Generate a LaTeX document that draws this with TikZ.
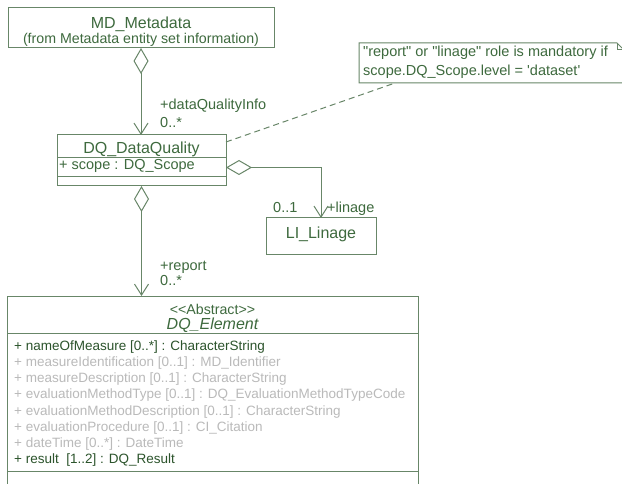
\documentclass[tikz,border=0pt]{standalone}
\usepackage{fontspec}
\setmainfont{Liberation Sans}
\usetikzlibrary{arrows.meta}
\definecolor{lg}{RGB}{104,134,104}
\definecolor{tg}{RGB}{62,106,62}
\definecolor{dg}{RGB}{44,84,44}
\definecolor{fg}{RGB}{186,186,186}
\begin{document}
\begin{tikzpicture}[x=1pt,y=-1pt,
  box/.style={draw=lg, line width=1pt, inner sep=0pt, outer sep=0pt, anchor=north west},
  ttl/.style={text=tg, font=\fontsize{16}{19}\selectfont, inner sep=0pt, anchor=base},
  lbl/.style={text=tg, font=\fontsize{14.5}{17}\selectfont, inner sep=0pt, anchor=base west},
  sub/.style={text=tg, font=\fontsize{14.2}{17}\selectfont, inner sep=0pt, anchor=base},
  attr/.style={font=\fontsize{13.5}{16}\selectfont, inner sep=0pt, anchor=base west},
  conn/.style={draw=lg, line width=1pt},
  agg/.style={conn, {Diamond[open, length=26pt, width=15pt, line width=1pt]}-{Straight Barb[length=11pt, width=14pt, line width=1pt]}}
]
\useasboundingbox (0,0) rectangle (622,484);
\fill[white] (0,0) rectangle (622,484);

% MD_Metadata
\node[box, minimum width=266pt, minimum height=40pt] (md) at (8,8) {};
\node[ttl] (mdt) at (141,28.5) {MD\_Metadata};
\node[sub] (mds) at (141,44) {(from Metadata entity set information)};

% DQ_DataQuality
\node[box, minimum width=169pt, minimum height=23pt] (dqn) at (57,135) {};
\node[box, minimum width=169pt, minimum height=19pt] (dqa) at (57,158) {};
\node[box, minimum width=169pt, minimum height=9pt] (dqo) at (57,177) {};
\node[ttl] (dqt) at (141.5,153.3) {DQ\_DataQuality};
\node[lbl] (dqs) at (59,169.5) {+ scope : DQ\_Scope};

% LI_Linage
\node[box, minimum width=110pt, minimum height=37pt] (li) at (266,218) {};
\node[ttl] (lit) at (321,239) {LI\_Linage};

% DQ_Element
\node[box, minimum width=411pt, minimum height=37pt] (eln) at (7,296) {};
\node[box, minimum width=411pt, minimum height=138pt] (ela) at (7,333) {};
\node[box, minimum width=411pt, minimum height=40pt] (elo) at (7,471) {};
\node[sub] (els) at (212.5,314) {<{}<Abstract>{}>};
\node[ttl, font=\fontsize{16}{19}\selectfont\itshape] (elt) at (212.5,329.5) {DQ\_Element};
\node[attr, text=dg] (a1) at (14,350) {+ nameOfMeasure [0..*] : CharacterString};
\node[attr, text=fg] (a2) at (14,366.3) {+ measureIdentification [0..1] : MD\_Identifier};
\node[attr, text=fg] (a3) at (14,382.6) {+ measureDescription [0..1] : CharacterString};
\node[attr, text=fg] (a4) at (14,398.9) {+ evaluationMethodType [0..1] : DQ\_EvaluationMethodTypeCode};
\node[attr, text=fg] (a5) at (14,415.2) {+ evaluationMethodDescription [0..1] : CharacterString};
\node[attr, text=fg] (a6) at (14,431.5) {+ evaluationProcedure [0..1] : CI\_Citation};
\node[attr, text=fg] (a7) at (14,447.8) {+ dateTime [0..*] : DateTime};
\node[attr, text=dg] (a8) at (14,463.6) {+ result\ \ [1..2] : DQ\_Result};

% Note
\node[inner sep=0pt, outer sep=0pt, anchor=north west, minimum width=268pt, minimum height=40pt] (note) at (359,43) {};
\draw[conn] (note.north west) -- ([xshift=-10pt]note.north east) -- ([yshift=-10pt]note.north east) -- (note.south east) -- (note.south west) -- cycle;
\draw[conn] ([xshift=-10pt]note.north east) -- ([xshift=-10pt,yshift=-7pt]note.north east) -- ([yshift=-7pt]note.north east);
\node[lbl] (n1) at (363,57) {\textquotedbl report\textquotedbl{} or \textquotedbl linage\textquotedbl{} role is mandatory if};
\node[lbl] (n2) at (363,75.7) {scope.DQ\_Scope.level = \textquotesingle dataset\textquotesingle};

% connectors
\draw[agg] (md.south) -- (md.south |- dqn.north);
\node[lbl] (l1) at (160,110) {+dataQualityInfo};
\node[lbl] (l2) at (160,128) {0..*};

\draw[agg] (dqo.south) -- (dqo.south |- eln.north);
\node[lbl] (l3) at (160,270) {+report};
\node[lbl] (l4) at (160,286) {0..*};

\draw[agg] (dqa.east) -| (li.north);
\node[lbl] (l5) at (273,212.3) {0..1};
\node[lbl] (l6) at (327,212.3) {+linage};

\draw[conn, dash pattern=on 6pt off 4pt] ([yshift=4.5pt]dqn.east) -- ([xshift=36pt]note.south west);
\end{tikzpicture}
\end{document}
